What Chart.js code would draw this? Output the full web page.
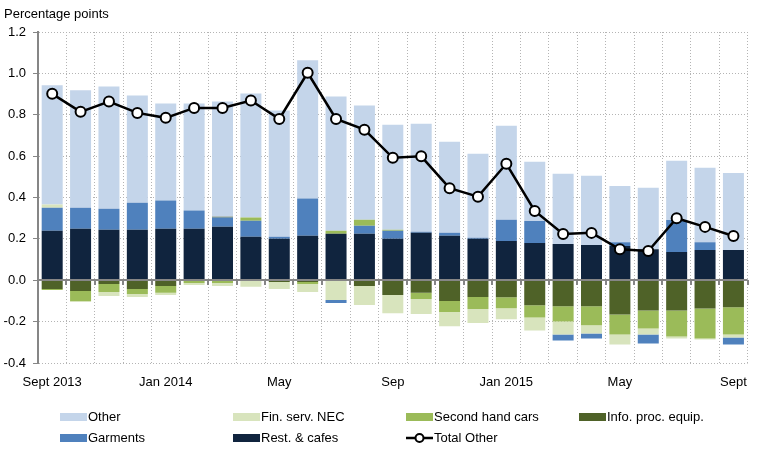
<!DOCTYPE html>
<html>
<head>
<meta charset="utf-8">
<script src="https://cdn.jsdelivr.net/npm/chart.js@4.4.1/dist/chart.umd.min.js"></script>
<style>
  body { margin: 0; background: #fff; font-family: "Liberation Sans", Arial, sans-serif; }
  #wrap { position: relative; width: 759px; height: 456px; }
  #title { position: absolute; left: 4px; top: 6px; font-size: 13px; color: #000; }
  .leg { position: absolute; font-size: 13px; color: #000; display: flex; align-items: center; white-space: nowrap; }
  .sw { display: inline-block; width: 27px; height: 8px; margin-right: 1px; }
</style>
</head>
<body>
<div id="wrap">
  <canvas id="myChart" width="759" height="456"></canvas>
  <div id="title">Percentage points</div>
  <div id="legend"></div>
</div>
<script>
// months Sept 2013 .. Sept 2015
var months = ['Sep 2013', 'Oct 2013', 'Nov 2013', 'Dec 2013', 'Jan 2014', 'Feb 2014', 'Mar 2014',
    'Apr 2014', 'May 2014', 'Jun 2014', 'Jul 2014', 'Aug 2014', 'Sep 2014', 'Oct 2014', 'Nov 2014',
    'Dec 2014', 'Jan 2015', 'Feb 2015', 'Mar 2015', 'Apr 2015', 'May 2015', 'Jun 2015', 'Jul 2015',
    'Aug 2015', 'Sep 2015'];
var tickLabels = ['Sept 2013', '', '', '', 'Jan 2014', '', '', '', 'May', '', '', '', 'Sep', '', '', '',
    'Jan 2015', '', '', '', 'May', '', '', '', 'Sept'];

var other = [0.576, 0.568, 0.591, 0.518, 0.469, 0.517, 0.557, 0.600, 0.610, 0.668, 0.649, 0.552, 0.508,
    0.522, 0.440, 0.406, 0.455, 0.287, 0.340, 0.335, 0.272, 0.297, 0.287, 0.360, 0.373];
var finServ = [0.015, -0.005, -0.019, -0.015, -0.010, -0.010, -0.015, -0.032, -0.034, -0.039, -0.095, -0.092,
    -0.088, -0.072, -0.068, -0.068, -0.054, -0.063, -0.063, -0.039, -0.049, -0.029, -0.010, -0.004, -0.015];
var secondHand = [-0.005, -0.048, -0.039, -0.024, -0.033, -0.010, -0.013, 0.015, 0, -0.010, 0.014, 0.029,
    0.005, -0.030, -0.054, -0.058, -0.053, -0.059, -0.073, -0.092, -0.097, -0.087, -0.126, -0.146, -0.131];
var infoProc = [-0.042, -0.052, -0.018, -0.042, -0.028, -0.003, 0.004, 0, -0.008, -0.008, 0, -0.028,
    -0.071, -0.061, -0.100, -0.081, -0.082, -0.121, -0.126, -0.126, -0.165, -0.146, -0.146, -0.136, -0.131];
var garments = [0.112, 0.102, 0.102, 0.131, 0.136, 0.088, 0.044, 0.078, 0.009, 0.180, -0.015, 0.039,
    0.038, 0.005, 0.015, 0.005, 0.102, 0.106, -0.029, -0.025, 0.019, -0.044, 0.155, 0.038, -0.034];
var restCafes = [0.239, 0.249, 0.244, 0.244, 0.249, 0.249, 0.259, 0.210, 0.201, 0.215, 0.225, 0.225,
    0.201, 0.230, 0.215, 0.201, 0.190, 0.180, 0.175, 0.170, 0.165, 0.150, 0.136, 0.146, 0.146];
var totalOther = [0.901, 0.814, 0.864, 0.809, 0.785, 0.833, 0.833, 0.869, 0.780, 1.003, 0.780, 0.728,
    0.592, 0.599, 0.445, 0.404, 0.563, 0.335, 0.224, 0.229, 0.150, 0.141, 0.300, 0.258, 0.214];

var colors = {
    other: '#c4d5ea',
    finServ: '#d8e4bd',
    secondHand: '#9bbb59',
    infoProc: '#4f6228',
    garments: '#4f81bd',
    rest: '#10243e'
};

// garments sits above rest & cafes when positive, at the very bottom when negative
var garmentsPos = garments.map(function (v) { return v > 0 ? v : 0; });
var garmentsNeg = garments.map(function (v) { return v < 0 ? v : 0; });

function bar(label, data, color) {
    return {
        type: 'bar', label: label, data: data, backgroundColor: color,
        stack: 'a', order: 1, barPercentage: 0.74, categoryPercentage: 1
    };
}

// gray zero line with small ticks at category edges
var zeroLine = {
    id: 'zeroLine',
    afterDatasetsDraw: function (chart) {
        var c = chart.ctx, x = chart.scales.x, y = chart.scales.y;
        var py = Math.round(y.getPixelForValue(0));
        c.save();
        c.strokeStyle = '#868686';
        c.lineWidth = 2;
        c.beginPath();
        c.moveTo(x.left, py);
        c.lineTo(x.right, py);
        var step = x.width / months.length;
        for (var i = 1; i <= months.length; i++) {
            var px = Math.round(x.left + i * step);
            c.moveTo(px, py);
            c.lineTo(px, py + 5);
        }
        c.stroke();
        c.restore();
    }
};

var ctx = document.getElementById('myChart');
var myChart = new Chart(ctx, {
    data: {
        labels: months,
        datasets: [
            {
                type: 'line', label: 'Total Other', data: totalOther, stack: 'b', order: 0,
                borderColor: '#000', borderWidth: 2.5, pointRadius: 5, pointBorderWidth: 2,
                pointBackgroundColor: '#fff', pointBorderColor: '#000', tension: 0
            },
            bar('Rest. & cafes', restCafes, colors.rest),
            bar('Garments', garmentsPos, colors.garments),
            bar('Info. proc. equip.', infoProc, colors.infoProc),
            bar('Second hand cars', secondHand, colors.secondHand),
            bar('Fin. serv. NEC', finServ, colors.finServ),
            bar('Garments (neg)', garmentsNeg, colors.garments),
            bar('Other', other, colors.other)
        ]
    },
    options: {
        responsive: false,
        animation: false,
        layout: { padding: { top: 32, right: 10, left: 0, bottom: 0 } },
        plugins: { legend: { display: false }, tooltip: { enabled: false } },
        scales: {
            x: {
                stacked: true,
                grid: { color: '#b4b4b4', lineWidth: 1, drawTicks: false, offset: true },
                border: { display: false, dash: [1, 2] },
                ticks: {
                    autoSkip: false, maxRotation: 0, padding: 12, color: '#000',
                    font: { family: 'Liberation Sans', size: 13 },
                    callback: function (v, i) { return tickLabels[i]; }
                },
                afterFit: function (s) { s.height = 93; }
            },
            y: {
                stacked: true,
                min: -0.4, max: 1.2,
                grid: {
                    color: function (c) { return c.tick && Math.abs(c.tick.value) < 1e-9 ? 'rgba(0,0,0,0)' : '#b4b4b4'; },
                    lineWidth: 1, tickColor: '#868686', tickLength: 5
                },
                border: { display: true, color: '#868686', width: 2, dash: [1, 2] },
                ticks: {
                    stepSize: 0.2, padding: 7, color: '#000',
                    font: { family: 'Liberation Sans', size: 13 },
                    callback: function (v) { return Math.abs(v) < 1e-9 ? '0.0' : v.toFixed(1); }
                },
                afterFit: function (s) { s.width = 38; }
            }
        }
    },
    plugins: [zeroLine]
});

// legend, laid out in four columns like the original
var legendItems = [
    { label: 'Other', color: colors.other, col: 0, row: 0 },
    { label: 'Fin. serv. NEC', color: colors.finServ, col: 1, row: 0 },
    { label: 'Second hand cars', color: colors.secondHand, col: 2, row: 0 },
    { label: 'Info. proc. equip.', color: colors.infoProc, col: 3, row: 0 },
    { label: 'Garments', color: colors.garments, col: 0, row: 1 },
    { label: 'Rest. & cafes', color: colors.rest, col: 1, row: 1 },
    { label: 'Total Other', line: true, col: 2, row: 1 }
];
var legend = document.getElementById('legend');
legendItems.forEach(function (it) {
    var d = document.createElement('div');
    d.className = 'leg';
    d.style.left = (60 + it.col * 173) + 'px';
    d.style.top = (409 + it.row * 21) + 'px';
    var sym = it.line
        ? '<svg width="27" height="12" style="margin-right:1px"><line x1="0" y1="6" x2="27" y2="6" stroke="#000" stroke-width="2.5"/><circle cx="13.5" cy="6" r="4" fill="#fff" stroke="#000" stroke-width="2"/></svg>'
        : '<span class="sw" style="background:' + it.color + '"></span>';
    d.innerHTML = sym + '<span>' + it.label + '</span>';
    legend.appendChild(d);
});
</script>
</body>
</html>
